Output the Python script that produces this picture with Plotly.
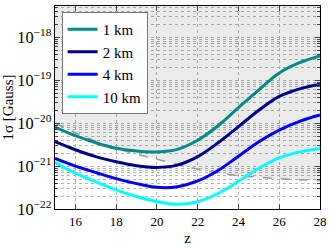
import plotly.graph_objects as go

z = [15, 16, 17, 18, 19, 20, 21, 22, 23, 24, 25, 26, 27, 28]

sigma_1km = [8.1e-21, 5.1e-21, 3.5e-21, 2.6e-21, 2.24e-21, 2.14e-21, 2.45e-21,
             4.0e-21, 8.7e-21, 2.3e-20, 6.0e-20, 1.48e-19, 2.57e-19, 3.7e-19]
sigma_2km = [3.7e-21, 2.4e-21, 1.66e-21, 1.26e-21, 1.02e-21, 9.3e-22, 1.05e-21,
             1.66e-21, 3.5e-21, 8.3e-21, 2.0e-20, 4.2e-20, 6.3e-20, 8.1e-20]
sigma_4km = [1.51e-21, 1.0e-21, 7.1e-22, 5.1e-22, 3.9e-22, 3.2e-22, 3.3e-22,
             4.5e-22, 7.9e-22, 1.7e-21, 3.7e-21, 6.9e-21, 1.1e-20, 1.55e-20]
sigma_10km = [1.23e-21, 6.8e-22, 4.3e-22, 2.8e-22, 1.95e-22, 1.48e-22, 1.29e-22,
              1.48e-22, 2.3e-22, 4.4e-22, 8.9e-22, 1.55e-21, 2.14e-21, 2.57e-21]
sigma_limit = [1.0e-20, 6.0e-21, 3.8e-21, 2.6e-21, 1.9e-21, 1.45e-21, 1.1e-21,
               8.5e-22, 6.9e-22, 6.0e-22, 5.5e-22, 5.1e-22, 4.8e-22, 4.6e-22]

series = [
    ("1 km", sigma_1km, "#008b8b"),
    ("2 km", sigma_2km, "#00008b"),
    ("4 km", sigma_4km, "#0000ff"),
    ("10 km", sigma_10km, "#00ffff"),
]

FONT = "Liberation Serif"
fig = go.Figure()

# shaded excluded region above the dashed curve
fig.add_trace(go.Scatter(x=z, y=[1e-16] * len(z), mode="lines", line=dict(width=0),
                         showlegend=False, hoverinfo="skip", line_shape="spline"))
fig.add_trace(go.Scatter(x=z, y=sigma_limit, mode="lines", line=dict(width=0),
                         fill="tonexty", fillcolor="rgba(0,0,0,0.08)",
                         showlegend=False, hoverinfo="skip", line_shape="spline"))
fig.add_trace(go.Scatter(x=z, y=sigma_limit, mode="lines",
                         line=dict(color="#999999", width=1.5, dash="dash"),
                         showlegend=False, line_shape="spline"))

for name, vals, col in series:
    fig.add_trace(go.Scatter(x=z, y=vals, mode="lines", name=name,
                             line=dict(color=col, width=3), line_shape="spline"))

grid_col = "#b5b5b5"
fig.update_layout(
    width=332, height=248,
    margin=dict(l=53, r=12, t=5, b=35),
    paper_bgcolor="white", plot_bgcolor="white",
    font=dict(family=FONT, size=13, color="black"),
    legend=dict(x=0.025, y=0.97, xanchor="left", yanchor="top",
                traceorder="normal",
                bgcolor="white", bordercolor="#777777", borderwidth=1,
                font=dict(family=FONT, size=15), itemwidth=30,
                tracegroupgap=0),
    xaxis=dict(range=[15, 28], tick0=0, dtick=2, ticks="inside", ticklen=5,
               showline=True, linecolor="black", linewidth=1, mirror="ticks",
               showgrid=True, gridcolor=grid_col, griddash="dot", gridwidth=1,
               zeroline=False,
               title=dict(text="z", font=dict(family=FONT, size=15), standoff=4),
               tickfont=dict(family=FONT, size=13)),
    yaxis=dict(type="log", range=[-22, -17.27], dtick=1, ticks="inside", ticklen=5,
               exponentformat="power", showexponent="all",
               showline=True, linecolor="black", linewidth=1, mirror="ticks",
               showgrid=True, gridcolor=grid_col, griddash="dot", gridwidth=1,
               minor=dict(ticks="inside", ticklen=3, showgrid=True,
                          gridcolor=grid_col, griddash="dot", gridwidth=1),
               title=dict(text="1σ [Gauss]", font=dict(family=FONT, size=15), standoff=2),
               tickfont=dict(family=FONT, size=13)),
)

fig.write_html("out.html", config={"displayModeBar": False},
               post_script="document.body.style.margin='0';")
